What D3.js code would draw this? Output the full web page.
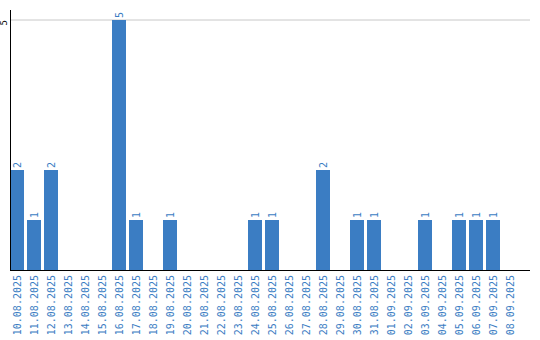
<!DOCTYPE html>
<html>
<head>
<meta charset="utf-8">
<script src="https://cdn.jsdelivr.net/npm/d3@7"></script>
<style>
  body { margin: 0; background: #fff; }
  text { font-family: "DejaVu Sans Mono", monospace; font-size: 10px; }
  .bar { fill: #3b7dc3; }
  .val, .xlab { fill: #3b7dc3; }
</style>
</head>
<body>
<svg width="540" height="340"></svg>
<script>
const dates = ["10.08.2025", "11.08.2025", "12.08.2025", "13.08.2025", "14.08.2025",
  "15.08.2025", "16.08.2025", "17.08.2025", "18.08.2025", "19.08.2025", "20.08.2025",
  "21.08.2025", "22.08.2025", "23.08.2025", "24.08.2025", "25.08.2025", "26.08.2025",
  "27.08.2025", "28.08.2025", "29.08.2025", "30.08.2025", "31.08.2025", "01.09.2025",
  "02.09.2025", "03.09.2025", "04.09.2025", "05.09.2025", "06.09.2025", "07.09.2025",
  "08.09.2025"];
const counts = [2, 1, 2, 0, 0, 0, 5, 1, 0, 1, 0, 0, 0, 0, 1, 1, 0, 0, 2, 0, 1, 1, 0, 0, 1, 0, 1, 1, 1, 0];
const yTicks = [5];

const data = dates.map((d, i) => ({ date: d, count: counts[i] }));

const svg = d3.select("svg");

const x = d3
  .scaleBand()
  .domain(dates)
  .range([10, 517])
  .paddingInner(3 / 17)
  .paddingOuter(0);

const y = d3
  .scaleLinear()
  .domain([0, 5])
  .range([270, 20]);

// gridline
svg
  .selectAll("line.grid")
  .data(yTicks)
  .enter()
  .append("line")
  .attr("x1", 10)
  .attr("x2", 530)
  .attr("y1", d => y(d))
  .attr("y2", d => y(d))
  .attr("stroke", "#c8c8c8")
  .attr("stroke-width", 1);

svg
  .selectAll("text.ytick")
  .data(yTicks)
  .enter()
  .append("text")
  .attr("class", "ytick")
  .attr("transform", d => `translate(7, ${y(d)}) rotate(-90)`)
  .attr("text-anchor", "end")
  .attr("fill", "#000")
  .style("font-size", "9px")
  .text(d => d);

svg
  .selectAll("rect.bar")
  .data(data.filter(d => d.count > 0))
  .enter()
  .append("rect")
  .attr("class", "bar")
  .attr("x", d => x(d.date))
  .attr("y", d => y(d.count))
  .attr("width", x.bandwidth())
  .attr("height", d => y(0) - y(d.count));

svg
  .selectAll("text.val")
  .data(data.filter(d => d.count > 0))
  .enter()
  .append("text")
  .attr("class", "val")
  .attr("transform", d => `translate(${x(d.date) + x.bandwidth() / 2 + 3.5}, ${y(d.count) - 2}) rotate(-90)`)
  .attr("text-anchor", "start")
  .text(d => d.count);

svg
  .selectAll("text.xlab")
  .data(dates)
  .enter()
  .append("text")
  .attr("class", "xlab")
  .attr("transform", d => `translate(${x(d) + x.bandwidth() / 2 + 3.5}, 275) rotate(-90)`)
  .attr("text-anchor", "end")
  .text(d => d);

// axes lines
svg.append("line")
  .attr("x1", 10.5).attr("x2", 10.5)
  .attr("y1", 10).attr("y2", 270)
  .attr("stroke", "#000");

svg.append("line")
  .attr("x1", 10).attr("x2", 530)
  .attr("y1", 270.5).attr("y2", 270.5)
  .attr("stroke", "#000");
</script>
</body>
</html>
